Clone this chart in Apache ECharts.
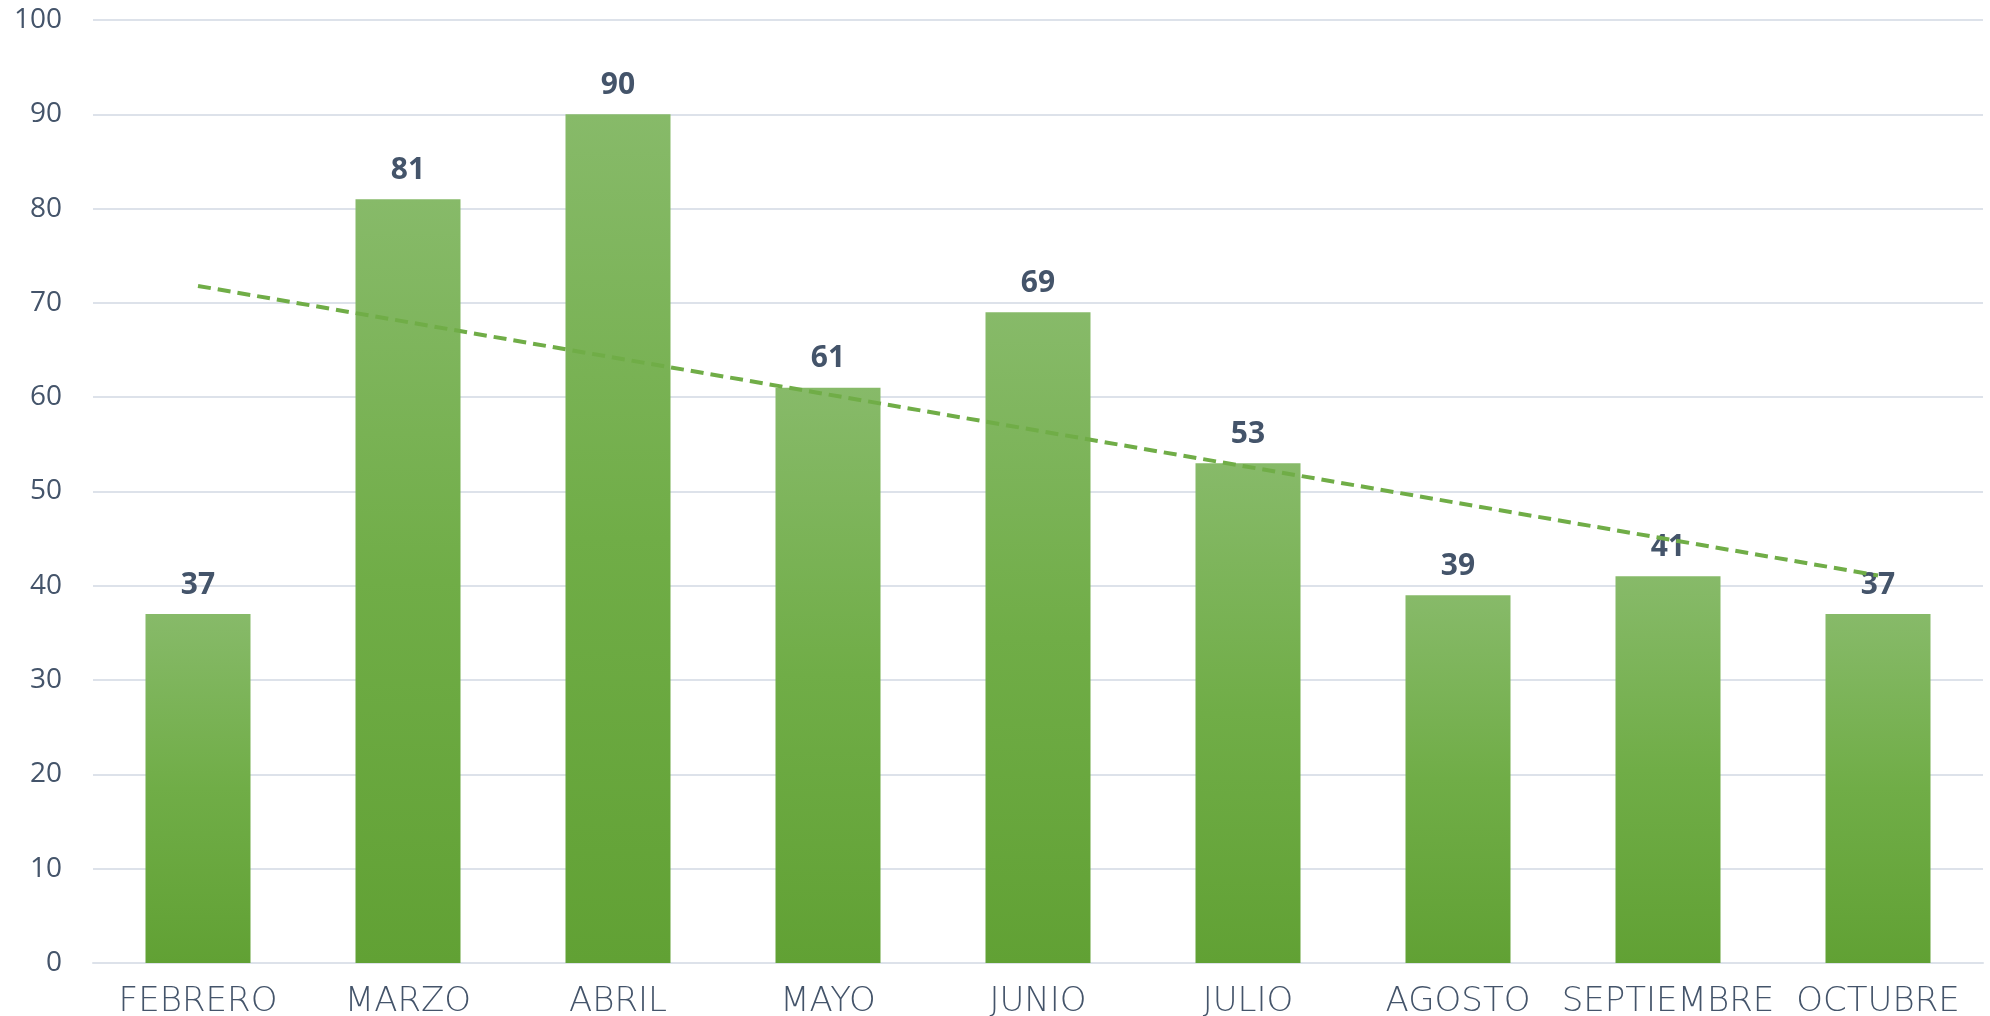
<!DOCTYPE html>
<html>
<head>
    <meta charset="utf-8">
    <title>Meses</title>
    <script src="https://cdn.jsdelivr.net/npm/echarts@6/dist/echarts.min.js"></script>
    <style>
        html, body { margin: 0; padding: 0; background: #fff; }
        #main { width: 1990px; height: 1016px; }
    </style>
</head>
<body>
<div id="main"></div>
<script type="text/javascript">
    // datos
    var months = ['FEBRERO', 'MARZO', 'ABRIL', 'MAYO', 'JUNIO', 'JULIO', 'AGOSTO', 'SEPTIEMBRE', 'OCTUBRE'];
    var values = [37, 81, 90, 61, 69, 53, 39, 41, 37];
    // linea de tendencia: extremos
    var trend = [71.8, null, null, null, null, null, null, null, 41.1];
    var yTicks = [0, 100, 10]; // min, max, intervalo

    var textColor = '#44546a';
    var gridColor = '#dde2ea';

    var myChart = echarts.init(document.getElementById('main'));
    myChart.setOption({
        animation: false,
        backgroundColor: '#ffffff',
        grid: { left: 93, right: 7, top: 20, bottom: 53, containLabel: false, outerBoundsMode: 'none' },
        xAxis: {
            type: 'category',
            data: months,
            axisLine: { show: true, lineStyle: { color: gridColor, width: 2 } },
            axisTick: { show: false },
            axisLabel: {
                color: textColor,
                fontFamily: 'DejaVu Sans',
                fontWeight: 200,
                fontSize: 34,
                margin: 22,
                interval: 0
            }
        },
        yAxis: {
            type: 'value',
            min: yTicks[0],
            max: yTicks[1],
            interval: yTicks[2],
            axisLine: { show: false },
            axisTick: { show: false },
            splitLine: { lineStyle: { color: gridColor, width: 2 } },
            axisLabel: {
                color: textColor,
                fontFamily: 'Open Sans',
                fontSize: 28,
                margin: 31
            }
        },
        series: [
            {
                name: 'valor',
                type: 'bar',
                data: values,
                barWidth: '50%',
                itemStyle: {
                    color: new echarts.graphic.LinearGradient(0, 0, 0, 1, [
                        { offset: 0, color: '#87ba69' },
                        { offset: 0.5, color: '#70ad47' },
                        { offset: 1, color: '#61a134' }
                    ])
                },
                label: {
                    show: true,
                    position: 'top',
                    distance: 14,
                    color: textColor,
                    fontFamily: 'Open Sans',
                    fontWeight: 'bold',
                    fontSize: 30
                },
                z: 2
            },
            {
                name: 'tendencia',
                type: 'line',
                data: trend,
                connectNulls: true,
                symbol: 'none',
                lineStyle: { color: '#70ad47', width: 4, type: [13, 7] },
                z: 5
            }
        ]
    });
</script>
</body>
</html>
